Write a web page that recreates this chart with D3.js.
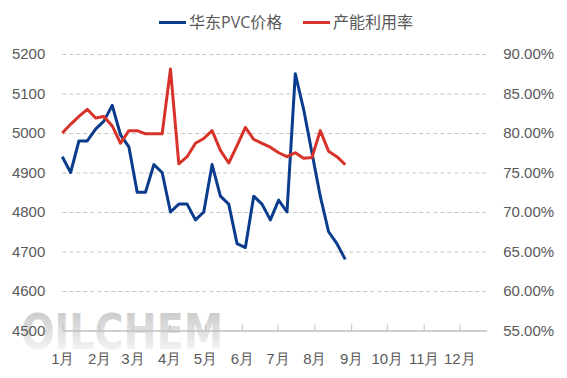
<!DOCTYPE html>
<html>
<head>
<meta charset="utf-8">
<script src="https://cdn.jsdelivr.net/npm/d3@7"></script>
<style>
    body { margin: 0; background: #fff; }
    svg { display: block; font-family: "Open Sans", "Noto Sans CJK SC", sans-serif; }
</style>
</head>
<body>
<svg id="chart" width="567" height="378"></svg>
<script>
// weekly dates of the two series
const dates = [
    "2021-01-01", "2021-01-08", "2021-01-15", "2021-01-22", "2021-01-29",
    "2021-02-05", "2021-02-12", "2021-02-19", "2021-02-26",
    "2021-03-05", "2021-03-12", "2021-03-19", "2021-03-26",
    "2021-04-02", "2021-04-09", "2021-04-16", "2021-04-23", "2021-04-30",
    "2021-05-07", "2021-05-14", "2021-05-21", "2021-05-28",
    "2021-06-04", "2021-06-11", "2021-06-18", "2021-06-25",
    "2021-07-02", "2021-07-09", "2021-07-16", "2021-07-23", "2021-07-30",
    "2021-08-06", "2021-08-13", "2021-08-20", "2021-08-27"
];
const pvcPrice = [
    4940, 4900, 4980, 4980, 5010, 5030, 5070, 4995, 4965,
    4850, 4850, 4920, 4900, 4800, 4820, 4820, 4780, 4800,
    4920, 4840, 4820, 4720, 4710, 4840, 4820, 4780, 4830,
    4800, 5150, 5060, 4950, 4840, 4750, 4720, 4680
];
const utilRate = [
    0.800, 0.811, 0.821, 0.830, 0.819, 0.821, 0.809, 0.787, 0.803,
    0.803, 0.799, 0.799, 0.799, 0.881, 0.761, 0.770, 0.787, 0.793,
    0.803, 0.778, 0.762, 0.784, 0.807, 0.792, 0.787, 0.782, 0.775,
    0.770, 0.775, 0.768, 0.769, 0.803, 0.777, 0.770, 0.760
];
const monthLabels = ["1月", "2月", "3月", "4月", "5月", "6月", "7月", "8月", "9月", "10月", "11月", "12月"];
const leftTicks = [4500, 4600, 4700, 4800, 4900, 5000, 5100, 5200];
const rightTicks = [0.55, 0.60, 0.65, 0.70, 0.75, 0.80, 0.85, 0.90];
const seriesNames = ["华东PVC价格", "产能利用率"];

const svg = d3.select("#chart");
const parse = d3.utcParse("%Y-%m-%d");
const textColor = "#595959";
const blue = "#0b3b8c";
const red = "#d7332a";

const plot = {left: 62.3, right: 486.7, top: 54, bottom: 330.5};

const x = d3.scaleUtc()
    .domain([parse("2021-01-01"), parse("2021-12-24")])
    .range([plot.left, plot.right]);
const yLeft = d3.scaleLinear().domain([4500, 5200]).range([plot.bottom, plot.top]);
const yRight = d3.scaleLinear().domain([0.55, 0.90]).range([plot.bottom, plot.top]);

// watermark
const defs = svg.append("defs");
const grad = defs.append("linearGradient")
    .attr("id", "wm").attr("x1", 0).attr("y1", 0).attr("x2", 0).attr("y2", 1);
grad.append("stop").attr("offset", "0%").attr("stop-color", "#b4b4b4");
grad.append("stop").attr("offset", "100%").attr("stop-color", "#ffffff");
svg.append("text")
    .attr("x", 21).attr("y", 349)
    .attr("textLength", 202).attr("lengthAdjust", "spacingAndGlyphs")
    .attr("font-family", "DejaVu Sans")
    .attr("font-weight", "bold")
    .attr("font-size", 50)
    .attr("fill", "url(#wm)")
    .attr("opacity", 0.8)
    .text("OILCHEM");

// left axis with grid
const leftAxis = svg.append("g")
    .attr("transform", `translate(${plot.left},0)`)
    .call(d3.axisLeft(yLeft).tickValues(leftTicks).tickSize(-(plot.right - plot.left)).tickPadding(17)
        .tickFormat(d3.format("d")));
leftAxis.select(".domain").remove();
leftAxis.selectAll(".tick line")
    .attr("stroke", "#c6c6c6")
    .attr("stroke-dasharray", "4,3")
    .filter((d) => d === 4500).remove();
leftAxis.selectAll(".tick text")
    .attr("fill", textColor).attr("font-size", 15).attr("font-family", null);

// right axis
const rightAxis = svg.append("g")
    .attr("transform", `translate(${plot.right},0)`)
    .call(d3.axisRight(yRight).tickValues(rightTicks).tickSize(0).tickPadding(16.5).tickFormat(d3.format(".2%")));
rightAxis.select(".domain").remove();
rightAxis.selectAll(".tick text")
    .attr("fill", textColor).attr("font-size", 15).attr("font-family", null);

// x axis
const months = d3.utcMonth.range(parse("2021-01-01"), parse("2021-12-02"));
const xAxis = svg.append("g")
    .attr("transform", `translate(0,${plot.bottom})`)
    .call(d3.axisBottom(x).tickValues(months).tickSize(-6).tickSizeOuter(0).tickPadding(23)
        .tickFormat((d, i) => monthLabels[i]));
xAxis.select(".domain").attr("stroke", "#bfbfbf").attr("stroke-width", 1.3);
xAxis.selectAll(".tick line").attr("stroke", "#bfbfbf");
xAxis.selectAll(".tick text")
    .attr("fill", textColor).attr("font-size", 15).attr("font-family", null);

// lines
const points = dates.map((d, i) => ({date: parse(d), price: pvcPrice[i], rate: utilRate[i]}));

svg.append("path")
    .datum(points)
    .attr("fill", "none")
    .attr("stroke", blue)
    .attr("stroke-width", 3)
    .attr("stroke-linejoin", "round")
    .attr("d", d3.line().x((d) => x(d.date)).y((d) => yLeft(d.price)));

svg.append("path")
    .datum(points)
    .attr("fill", "none")
    .attr("stroke", red)
    .attr("stroke-width", 3)
    .attr("stroke-linejoin", "round")
    .attr("d", d3.line().x((d) => x(d.date)).y((d) => yRight(d.rate)));

// legend
const legend = svg.append("g");
[{x: 159, color: blue}, {x: 303, color: red}].forEach((item, i) => {
    legend.append("line")
        .attr("x1", item.x).attr("x2", item.x + 27)
        .attr("y1", 22.5).attr("y2", 22.5)
        .attr("stroke", item.color).attr("stroke-width", 3);
    legend.append("text")
        .attr("x", item.x + 30).attr("y", 22.5)
        .attr("dy", "0.35em")
        .attr("fill", textColor)
        .attr("font-size", 16)
        .text(seriesNames[i]);
});
</script>
</body>
</html>
